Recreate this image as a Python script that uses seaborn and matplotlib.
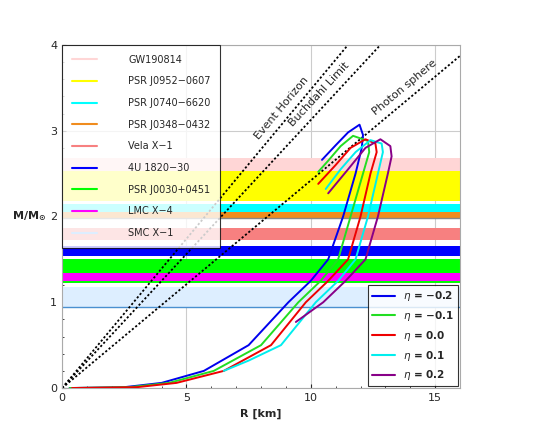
import numpy as np
import matplotlib
matplotlib.use('Agg')
import matplotlib.pyplot as plt
from matplotlib.lines import Line2D
import seaborn as sns

# observational mass bands (lower, upper) in solar masses
band_names = ['GW190814', 'PSR J0952\u22120607', 'PSR J0740\u22126620', 'PSR J0348\u22120432',
              'Vela X\u22121', '4U 1820\u221230', 'PSR J0030+0451', 'LMC X\u22124', 'SMC X\u22121']
band_lo = [2.50, 2.18, 2.05, 1.98, 1.72, 1.54, 1.22, 1.25, 0.95]
band_hi = [2.68, 2.53, 2.15, 2.05, 1.87, 1.66, 1.50, 1.34, 1.18]
band_colors = ['#ffd6d6', '#ffff00', '#00ffff', '#f08c1e', '#f78080', '#0000ff',
               '#00ff00', '#ff00ff', '#ddeeff']
band_edge = ['none', 'none', 'none', '#888888', 'none', 'none', 'none', 'none', '#4a90d0']

# mass-radius curves for each eta
etas = ['\u22120.2', '\u22120.1', '0.0', '0.1', '0.2']
curve_colors = ['#0000ee', '#22dd22', '#ee0000', '#00eeee', '#880088']
R_curves = [
    [0.3, 2.5, 4.0, 5.7, 7.5, 9.1, 10.0, 10.7, 11.3, 11.8, 12.05, 12.1, 11.96, 11.5, 11.0, 10.45],
    [0.3, 2.7, 4.3, 6.1, 8.0, 9.5, 10.4, 11.1, 11.6, 12.1, 12.35, 12.3, 11.7, 11.2, 10.7, 10.3],
    [0.4, 3.0, 4.6, 6.5, 8.4, 9.8, 10.7, 11.5, 12.0, 12.4, 12.65, 12.6, 12.2, 11.6, 11.0, 10.3],
    [6.5, 7.5, 8.8, 10.2, 11.1, 11.8, 12.3, 12.7, 12.9, 12.85, 12.4, 11.8, 11.2, 10.6],
    [9.4, 10.5, 11.4, 12.2, 12.7, 13.1, 13.25, 13.2, 12.8, 12.2, 11.5, 10.7],
]
M_curves = [
    [0.0, 0.01, 0.06, 0.2, 0.5, 1.0, 1.25, 1.5, 2.0, 2.5, 2.8, 2.95, 3.07, 2.98, 2.83, 2.66],
    [0.0, 0.01, 0.06, 0.2, 0.5, 1.0, 1.25, 1.5, 2.0, 2.5, 2.75, 2.88, 2.94, 2.82, 2.65, 2.52],
    [0.0, 0.01, 0.06, 0.2, 0.5, 1.0, 1.25, 1.5, 2.0, 2.5, 2.75, 2.85, 2.9, 2.8, 2.6, 2.38],
    [0.2, 0.32, 0.5, 1.0, 1.25, 1.5, 2.0, 2.5, 2.75, 2.85, 2.89, 2.75, 2.55, 2.32],
    [0.77, 1.0, 1.25, 1.5, 2.0, 2.5, 2.7, 2.82, 2.9, 2.8, 2.55, 2.27],
]

# limit lines M = slope * R
limit_names = ['Event Horizon', 'Buchdahl Limit', 'Photon sphere']
limit_slopes = [0.348, 0.3125, 0.242]
limit_label_R = [9.0, 10.5, 13.9]

sns.set_style('ticks')
plt.rcParams['font.family'] = ['DejaVu Sans']

fig = plt.figure(figsize=(5.45, 4.36), dpi=100)
ax = fig.add_axes([0.114, 0.11, 0.73, 0.787])

for lo, hi, c, e in zip(band_lo, band_hi, band_colors, band_edge):
    ax.axhspan(lo, hi, color=c, lw=0, zorder=1)
    if e != 'none':
        ax.axhline(lo, color=e, lw=1, zorder=1.5)

Rl = np.array([0, 16])
for name, s, rl in zip(limit_names, limit_slopes, limit_label_R):
    ax.plot(Rl, s * Rl, ls=(0, (1.2, 1.2)), color='black', lw=1.3, zorder=2)
    ang = np.degrees(np.arctan(s * (0.787 * 4.36 / 4) / (0.73 * 5.45 / 16)))
    ax.text(rl, s * rl + 0.1, name, rotation=ang, fontsize=8, ha='center', va='bottom',
            rotation_mode='anchor', zorder=3)

for R, M, c in zip(R_curves, M_curves, curve_colors):
    ln = sns.lineplot(x=R, y=M, sort=False, estimator=None, color=c, lw=1.4, ax=ax)
    ln.lines[-1].set_zorder(4)

ax.set_xlim(0, 16)
ax.set_ylim(0, 4)
ax.set_xticks([0, 5, 10, 15])
ax.set_yticks([0, 1, 2, 3, 4])
ax.set_xticks(np.arange(0, 16.1, 1), minor=True)
ax.set_yticks(np.arange(0, 4.01, 0.2), minor=True)
ax.grid(True, which='major', color='#cccccc', lw=0.8, zorder=0)
ax.set_axisbelow(True)
ax.tick_params(labelsize=8, direction='in', length=3)
ax.tick_params(which='minor', direction='in', length=1.5)
for sp in ax.spines.values():
    sp.set_color('#aaaaaa')
ax.set_xlabel('R [km]', fontsize=8, fontweight='bold')
ax.set_ylabel(r'$\mathbf{M/M_{\odot}}$', fontsize=8, rotation=0, ha='right', va='center')
ax.yaxis.set_label_coords(-0.04, 0.5)

h1 = [Line2D([], [], color=c, lw=1.5) for c in band_colors]
leg1 = ax.legend(h1, band_names, loc='upper left', fontsize=7, frameon=True, fancybox=False,
                 edgecolor='black', borderpad=1.0, labelspacing=1.2, handlelength=2.6,
                 handletextpad=3.2, borderaxespad=0)
leg1.get_frame().set_linewidth(0.8)
leg1.set_zorder(5)
ax.add_artist(leg1)

h2 = [Line2D([], [], color=c, lw=1.5) for c in curve_colors]
leg2 = ax.legend(h2, [r'$\eta$ = ' + e for e in etas], loc='lower right',
                 frameon=True, fancybox=False, edgecolor='black', labelspacing=0.55,
                 handlelength=2.2, borderaxespad=0.15, prop={'weight': 'bold', 'size': 7.5})
leg2.get_frame().set_linewidth(0.8)
leg2.set_zorder(5)

fig.savefig('out.png', dpi=100)
